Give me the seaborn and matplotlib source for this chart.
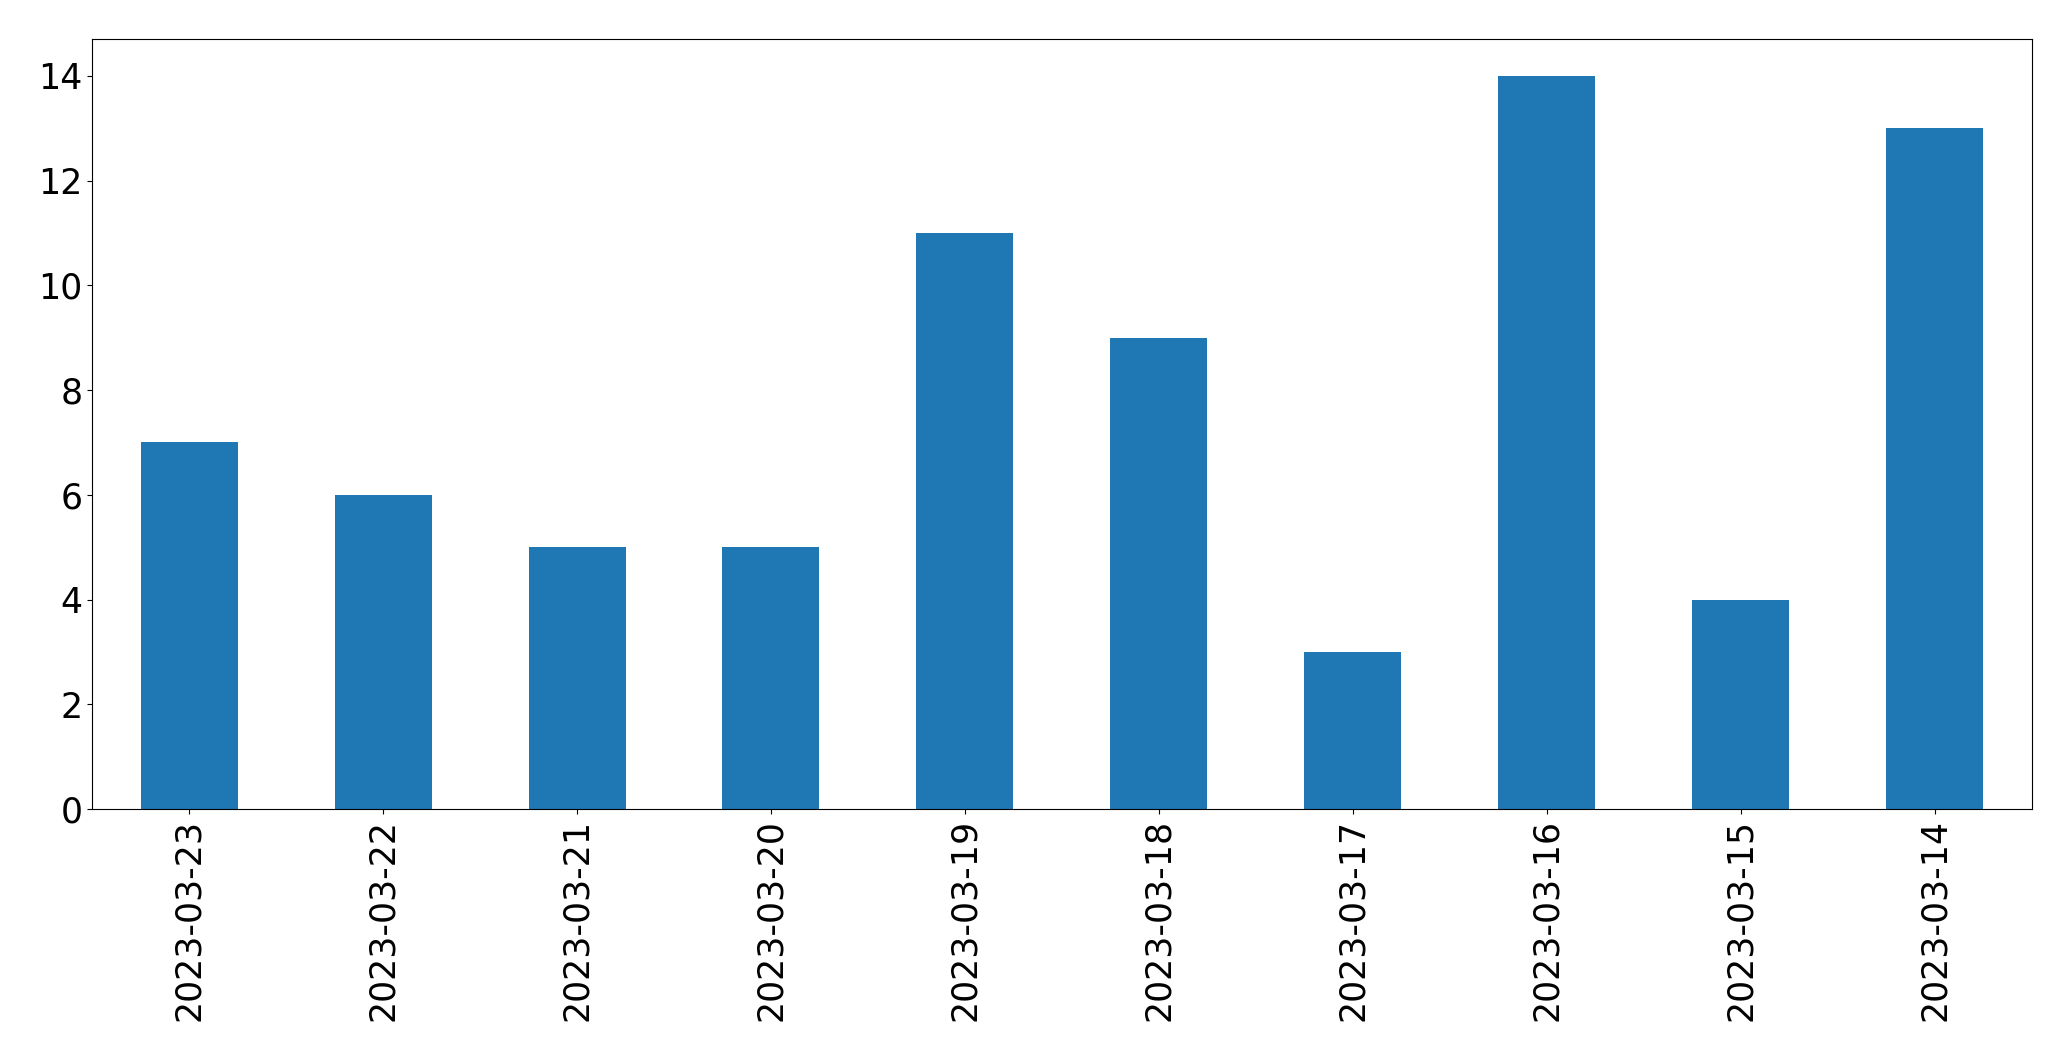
import matplotlib
matplotlib.use("Agg")
import matplotlib.pyplot as plt
import seaborn as sns
import pandas as pd

# données
dates = ['2023-03-23', '2023-03-22', '2023-03-21', '2023-03-20', '2023-03-19',
         '2023-03-18', '2023-03-17', '2023-03-16', '2023-03-15', '2023-03-14']
counts = [7, 6, 5, 5, 11, 9, 3, 14, 4, 13]

df = pd.DataFrame({'date': dates, 'count': counts})

fig, ax = plt.subplots(figsize=(20.71, 10.61), dpi=100)
sns.barplot(data=df, x='date', y='count', order=dates, color='#1f77b4',
            saturation=1, width=0.5, linewidth=0, ax=ax)
ax.set_xlim(-0.5, len(dates) - 0.5)
ax.set_ylim(0, max(counts) * 1.05)
ax.set_xlabel('')
ax.set_ylabel('')
ax.tick_params(axis='both', labelsize=25)
plt.xticks(rotation=90)
fig.subplots_adjust(left=0.0445, right=0.981, top=0.963, bottom=0.2375)
fig.savefig('out.png', dpi=100)
